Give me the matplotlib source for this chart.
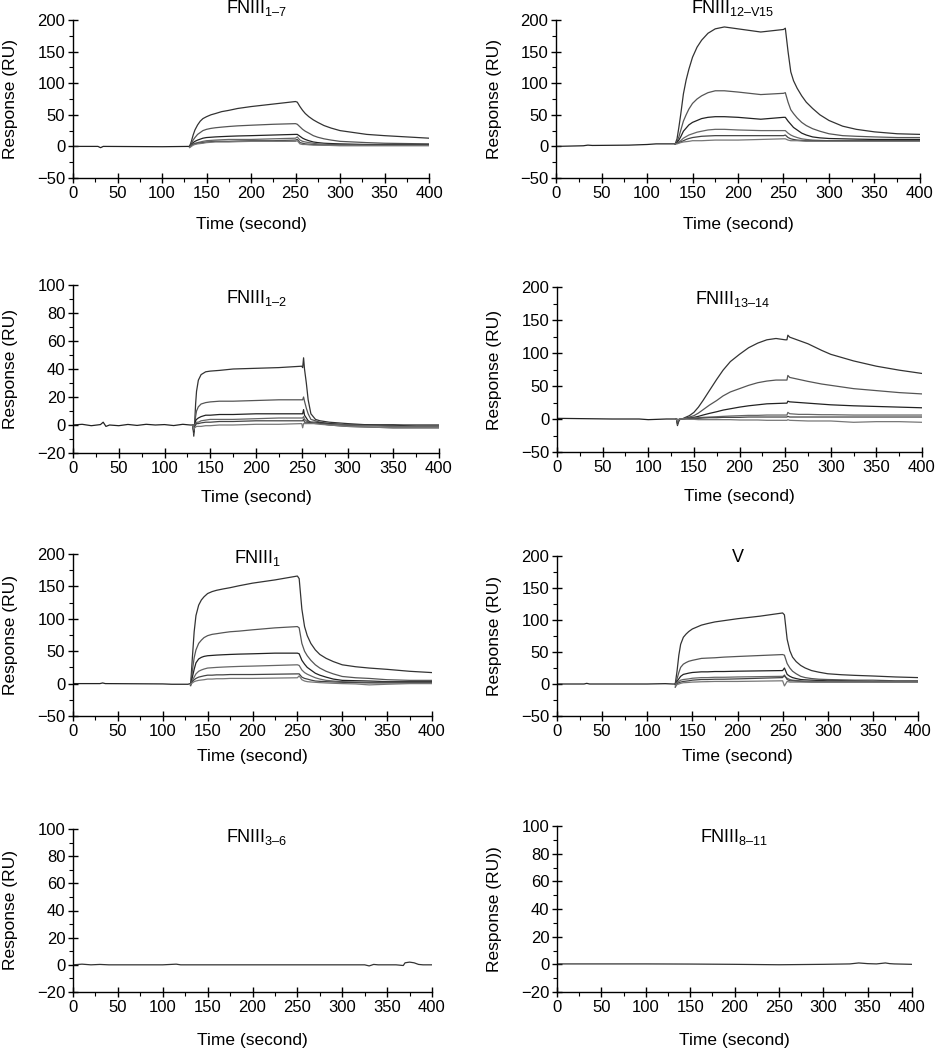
"""
SPR sensorgrams, 8 panels (4 x 2)
"""
import matplotlib
matplotlib.use('Agg')
import matplotlib.pyplot as plt
from matplotlib.ticker import MultipleLocator

plt.rcParams['font.family'] = 'Liberation Sans'
plt.rcParams['mathtext.fontset'] = 'custom'
plt.rcParams['mathtext.rm'] = 'Liberation Sans'
plt.rcParams['mathtext.it'] = 'Liberation Sans'
plt.rcParams['mathtext.default'] = 'regular'

W, H = 935, 1050

# ---- common time grid for association / dissociation (s) ----
t_kin = [131, 133, 135, 137, 140, 143, 146, 150, 155, 160, 167, 175, 185, 200, 225, 250,
         252, 255, 258, 261, 265, 270, 275, 282, 290, 300, 315, 330, 350, 375, 400]

# ---- FNIII 1-7 ----
p1_base_t = [0, 28, 31, 34, 100, 131]
p1_base_y = [0, 0, -2, 0, -0.5, 0]
p1_curves = [
    [0, 8, 18, 26, 34, 40, 44, 47, 50, 52, 55, 57, 60, 63, 67, 71,
     70, 63, 57, 52, 47, 42, 38, 33, 29, 25, 22, 19, 17, 15, 13],
    [0, 5, 10, 14, 19, 22, 25, 27, 28.5, 29.5, 30.5, 31.5, 32.5, 33.5, 35, 36,
     35, 31, 27, 24, 21, 17, 14.5, 12, 10, 8, 7, 6, 5, 4.5, 4],
    [0, 3, 6, 8, 10, 11.5, 13, 14, 14.5, 15, 15.5, 16, 16.5, 17, 18, 19,
     19, 16, 13, 11, 9, 7, 6, 5, 4.5, 4, 3.5, 3, 3, 3, 3],
    [-1, 2, 4, 5, 6, 7, 8, 9, 9.5, 10, 10.5, 11, 11, 11, 12, 13,
     15, 10, 8, 7, 6, 5, 4, 3.5, 3, 3, 2.5, 2, 2, 2, 2],
    [-1, 1, 3, 4, 5, 5.5, 6, 7, 7.5, 8, 8, 8, 8.5, 9, 9, 10,
     11, 6, 5, 4, 3.5, 3, 2.5, 2, 2, 2, 2, 2, 2, 2, 2],
    [-2, 0, 2, 3, 4, 4.5, 5, 6, 6.5, 7, 7, 7, 7.5, 8, 8, 8,
     9, 4, 3, 3, 2.5, 2, 2, 2, 1.5, 1, 1, 1, 1, 1, 1],
]

# ---- FNIII 12-V15 ----
p2_base_t = [0, 30, 35, 40, 80, 100, 110, 131]
p2_base_y = [0, 1, 2, 1.5, 2, 3, 4, 4]
p2_curves = [
    [4, 12, 30, 50, 83, 105, 122, 141, 157, 168, 179, 186, 189, 186, 181, 185,
     187, 150, 118, 104, 92, 80, 70, 60, 50, 41, 32, 27, 23, 20, 19],
    [4, 8, 15, 25, 40, 50, 59, 68, 75, 80, 85, 88, 88, 86, 82, 84,
     85, 70, 58, 52, 45, 38, 33, 28, 24, 20, 17, 16, 15, 14, 14],
    [4, 6, 10, 15, 24, 29, 34, 38, 41, 44, 46, 47, 47, 46, 43, 46,
     46, 40, 35, 30, 26, 21, 18, 15, 13.5, 12.5, 12, 11.5, 11, 11, 11],
    [4, 5, 7, 9, 13, 15.5, 18, 20, 22.5, 24, 26, 27, 27, 26, 25, 25,
     25, 21, 18, 16, 14, 12, 11, 10, 9.5, 9, 9, 9, 9, 9, 9],
    [4, 5, 6, 7, 9, 11, 12.5, 14, 15, 16, 16.5, 17, 17, 17, 17, 17,
     18, 14, 12, 11, 10, 9.5, 9, 9, 9, 9, 9, 9, 9, 9, 9],
    [4, 4, 5, 6, 7, 7.5, 8, 9, 9, 9, 9.5, 10, 10, 10, 11, 12,
     12, 10, 9, 9, 9, 8.5, 8, 8, 8, 8, 8, 8, 8, 8, 8],
]

# ---- FNIII 1-2 ----
p3_base_t = [0, 10, 20, 30, 33, 36, 40, 50, 60, 70, 80, 90, 100, 110, 120, 128, 131]
p3_base_y = [0, 0.5, -0.5, 0.3, 2, -1, 0, -0.5, 0.4, -0.3, 0.5, 0, 0.3, -0.4, 0.5, 0, 0]
p3_t = [131, 132, 133, 134, 135, 137, 140, 145, 150, 160, 175, 200, 225, 250,
        251, 252, 253, 255, 257, 260, 265, 270, 280, 300, 325, 350, 375, 400]
p3_curves = [
    [0, -8, 2, 15, 24, 32, 36, 38, 38.5, 39, 40, 40.5, 41, 42, 41, 48, 40, 30, 18, 8, 4, 3, 2, 1, 0, 0, -1, -1],
    [0, -6, 1, 6, 10, 13, 15, 16, 16.5, 17, 17, 17.5, 18, 18, 18, 20, 17, 12, 8, 4, 3, 2, 1, 0, 0, -1, -1, -1],
    [0, -5, 0, 3, 4, 5, 6, 7, 7, 7.5, 7.5, 8, 8, 8, 8, 11, 7, 5, 3, 2, 2, 1.5, 1, 0, 0, 0, 0, 0],
    [0, -4, 0, 1, 2, 2, 3, 3.5, 4, 4, 4, 4.5, 5, 5, 5, 6, 4, 3, 2, 2, 1.5, 1, 0.5, 0, -0.5, -1, -1, -1],
    [0, -4, -1, 0, 1, 1, 1.5, 2, 2, 2.5, 2.5, 3, 3, 3, 3, 4, 2, 2, 2, 1.5, 1, 1, 0, -1, -1.5, -2, -2, -2],
    [0, -3, -2, -1.5, -1, -1, -1, -0.5, -0.5, 0, 0, 0.5, 0.5, 1, -2, 1, 1, 1, 1, 1, 1, 0.5, 0, -1, -1.5, -2, -2, -2],
]

# ---- FNIII 13-14 ----
p4_base_t = [0, 30, 60, 90, 100, 120, 128, 131]
p4_base_y = [1, 0.5, 0, 0, -1, 0, 0, 0]
p4_t = [131, 132, 134, 137, 140, 145, 150, 155, 160, 167, 175, 182, 190, 200, 210,
        220, 230, 240, 250, 252, 253, 255, 265, 275, 290, 300, 325, 350, 375, 400]
p4_curves = [
    [0, -10, -1, 0, 2, 5, 10, 18, 28, 43, 60, 74, 87, 98, 108,
     115, 120, 122, 120, 120, 127, 124, 119, 114, 104, 98, 88, 80, 74, 69],
    [0, -8, -1, 0, 1, 3, 5, 9, 14, 21, 28, 35, 41, 46, 51,
     55, 57.5, 59, 59, 59, 66, 63, 60, 57, 53, 51, 46, 43, 40, 38],
    [0, -6, -1, 0, 0.5, 1.5, 2.5, 4, 6, 8.5, 11, 13.5, 15.5, 18, 20,
     21.5, 23, 23.5, 24, 24, 27, 26, 25, 24, 22.5, 21.5, 20, 19, 18, 17],
    [0, -5, -0.5, 0, 0.5, 1, 1.5, 2, 2.5, 3, 3.5, 4, 4.5, 5, 5.5,
     5.5, 6, 6, 6, 6, 10, 8, 7, 7, 6.5, 6.5, 6, 6, 6, 6],
    [0, -4, 0, 0, 0, 0.5, 1, 1, 1.5, 2, 2, 2.5, 2.5, 2.5, 3,
     3, 3, 3, 3, 3, 4, 3, 3, 3, 3, 3, 3, 3, 3, 3],
    [0, -3, 0, 0, 0, -0.5, -0.5, -1, -1, -1, -1, -1, -1, -1.5, -1.5,
     -1.5, -2, -2, -2, -2, -1, -2, -2.5, -3, -3, -3, -5, -4, -4, -5],
]

# ---- FNIII 1 ----
p5_base_t = [0, 30, 33, 36, 100, 110, 128, 131]
p5_base_y = [0, 0, 1, 0, -0.5, -1, -1, 0]
p5_curves = [
    [-3, 40, 80, 105, 121, 129, 134, 139, 142, 144, 146, 148, 151, 155, 160, 166,
     162, 115, 88, 74, 62, 52, 45, 39, 34, 29, 26, 24, 22, 19, 17],
    [-3, 20, 40, 52, 62, 67, 71, 74, 76, 77, 78.5, 80, 81, 83, 86, 88,
     86, 62, 50, 43, 36, 29, 24, 19, 15, 11, 9, 8, 6, 5, 5],
    [-2, 10, 22, 32, 38, 40.5, 42, 43, 43.5, 44, 44.5, 45, 45.5, 46, 47, 47,
     46, 36, 30, 25, 21, 16, 13, 10, 7, 5, 4.5, 4, 3, 3, 3],
    [-2, 5, 10, 15, 19, 21, 22.5, 24, 24.5, 25, 25.5, 26, 26.5, 27, 28, 29,
     28, 21, 17, 14.5, 12, 9, 7, 5, 4, 3, 2.5, 2, 2, 2, 2],
    [-1, 3, 6, 8, 10, 11, 12, 13, 13, 13.5, 13.5, 14, 14, 14, 14.5, 15,
     15, 10, 8, 7, 5.5, 4, 3.5, 3, 2.5, 2, 1.5, 1, 1, 1, 1],
    [-1, 1, 3, 4, 5, 5.5, 6, 7, 7, 7.5, 7.5, 8, 8, 8, 8.5, 9,
     12, 6, 4, 3, 2.5, 2, 1.5, 1, 0.5, 0, -0.5, -2, -1, 0, 0],
]

# ---- V ----
p6_base_t = [0, 30, 33, 36, 100, 120, 128, 131]
p6_base_y = [0, 0, 1, 0, 0, 0.5, 0, 0]
p6_curves = [
    [0, 20, 45, 62, 73, 78, 82, 86, 89, 92, 94.5, 97, 99, 102, 106, 111,
     108, 70, 52, 42, 35, 29, 25, 21, 18.5, 16, 14.5, 13.5, 12.5, 11, 10],
    [0, 8, 18, 26, 31, 33.5, 35.5, 37, 38.5, 40, 40.5, 41, 42, 43, 44.5, 46,
     45, 32, 25, 20, 16, 12, 10, 8.5, 7.5, 7, 6.5, 6, 6, 5, 5],
    [0, 4, 8, 12, 15, 16, 17, 18, 18.5, 19, 19, 19.5, 19.5, 20, 20.5, 21,
     25, 15, 12, 10, 8.5, 7, 6.5, 6, 5.5, 5, 5, 4.5, 4, 4, 4],
    [0, 2, 4, 6, 7, 7.5, 8, 9, 9.5, 10, 10, 10.5, 10.5, 11, 11.5, 12,
     12, 9, 7, 6, 5.5, 5, 4.5, 4, 4, 4, 4, 4, 4, 4, 4],
    [-5, 0, 2, 3, 4, 4.5, 5, 6, 6.5, 7, 7, 7.5, 7.5, 8, 9, 10,
     14, 7, 5, 5, 4.5, 4, 3.5, 3, 3, 3, 3, 3, 3, 3, 3],
    [-3, -1, 0, 1, 2, 2.2, 2.5, 3, 3.2, 3.5, 3.7, 4, 4, 4, 4.5, 5,
     -3, 4, 3, 3, 3, 3, 3, 3, 3, 3, 3, 3, 3, 3, 3],
]

# ---- FNIII 3-6 (no binding) ----
p7_t = [0, 10, 20, 30, 40, 50, 100, 115, 120, 200, 300, 325, 330, 335, 340,
        360, 368, 370, 375, 380, 385, 390, 400]
p7_y = [0, 0.5, 0, 0.3, 0, 0, 0, 0.5, 0, 0, 0, 0, -0.8, 0.3, 0, 0, -0.5, 1.5, 2, 1.5, 0.3, 0, 0]

# ---- FNIII 8-11 (no binding) ----
p8_t = [0, 50, 100, 150, 200, 250, 300, 330, 340, 350, 360, 370, 375, 380, 400]
p8_y = [0.3, 0.3, 0.3, 0.2, 0, -0.3, 0, 0.3, 1, 0.5, 0.3, 1, 0.5, 0.3, 0]

curve_colors = ['#333333', '#555555', '#222222', '#666666', '#444444', '#777777']

# panel boxes in pixels: left, right, top, bottom
boxes = [
    (73, 429, 20, 178), (556, 920, 20, 178),
    (73, 439, 285, 453), (557, 922, 287, 452),
    (73, 432, 554, 716), (557, 918, 556, 716),
    (73, 432, 829, 992), (557, 912, 826, 992),
]
titles = [r'FNIII$_{1–7}$', r'FNIII$_{12–V15}$', r'FNIII$_{1–2}$', r'FNIII$_{13–14}$',
          r'FNIII$_{1}$', 'V', r'FNIII$_{3–6}$', r'FNIII$_{8–11}$']
title_pos = [(256, 13), (733, 13), (256, 303), (733, 304),
             (257, 563), (738, 562), (256, 842), (734, 842)]
ylabels = ['Response (RU)'] * 7 + ['Response (RU))']
xlabel_y = [224, 224, 497, 497, 757, 757, 1041, 1041]
ylabel_x = [10, 494, 10, 494, 10, 494, 10, 494]
ylims = [(-50, 200), (-50, 200), (-20, 100), (-50, 200),
         (-50, 200), (-50, 200), (-20, 100), (-20, 100)]

fig = plt.figure(figsize=(W / 100, H / 100), dpi=100)
axes = []
for (l, r, t, b) in boxes:
    axes.append(fig.add_axes([l / W, 1 - b / H, (r - l) / W, (b - t) / H]))


def draw_kinetics(ax, base_t, base_y, t, curves):
    ax.plot(base_t, base_y, color='#222222', lw=0.9)
    for y, c in zip(curves, curve_colors):
        ax.plot(t, y, color=c, lw=0.9)


draw_kinetics(axes[0], p1_base_t, p1_base_y, t_kin, p1_curves)
draw_kinetics(axes[1], p2_base_t, p2_base_y, t_kin, p2_curves)
draw_kinetics(axes[2], p3_base_t, p3_base_y, p3_t, p3_curves)
draw_kinetics(axes[3], p4_base_t, p4_base_y, p4_t, p4_curves)
draw_kinetics(axes[4], p5_base_t, p5_base_y, t_kin, p5_curves)
draw_kinetics(axes[5], p6_base_t, p6_base_y, t_kin, p6_curves)
axes[6].plot(p7_t, p7_y, color='#333333', lw=0.9)
axes[7].plot(p8_t, p8_y, color='#333333', lw=0.9)

for i, ax in enumerate(axes):
    l, r, t, b = boxes[i]
    ax.set_xlim(0, 400)
    ax.set_ylim(*ylims[i])
    ax.spines['top'].set_visible(False)
    ax.spines['right'].set_visible(False)
    ax.spines['left'].set_linewidth(1.0)
    ax.spines['bottom'].set_linewidth(1.0)
    ax.xaxis.set_major_locator(MultipleLocator(50))
    ax.xaxis.set_minor_locator(MultipleLocator(25))
    step = 50 if ylims[i][1] == 200 else 20
    ax.yaxis.set_major_locator(MultipleLocator(step))
    ax.yaxis.set_minor_locator(MultipleLocator(step / 2))
    ax.tick_params(which='major', direction='inout', length=7, width=1.0,
                   labelsize=12, pad=2)
    ax.tick_params(which='minor', direction='out', length=3, width=0.8)
    ax.set_xlabel('Time (second)', fontsize=12.5, va='center')
    ax.set_ylabel(ylabels[i], fontsize=12.5, va='center')
    ax.xaxis.set_label_coords(0.5, (b - xlabel_y[i]) / (b - t))
    ax.yaxis.set_label_coords((ylabel_x[i] - l) / (r - l), 0.5)
    tx, ty = title_pos[i]
    fig.text(tx / W, 1 - ty / H, titles[i], ha='center', va='baseline', fontsize=13)

fig.savefig('out.png', dpi=100)
